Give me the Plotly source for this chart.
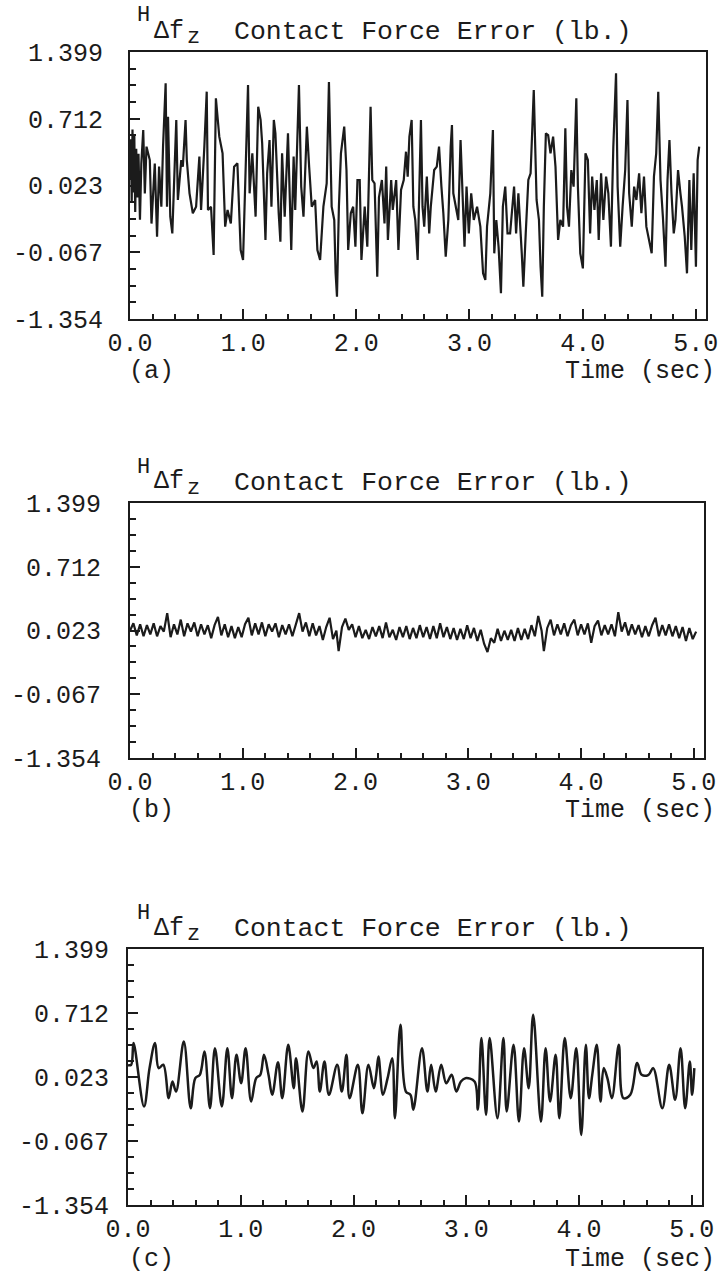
import plotly.graph_objects as go

# ---------------- data ----------------
Y_TICK_LABELS = ["-1.354", "-0.067", "0.023", "0.712", "1.399"]
X_TICK_LABELS = ["0.0", "1.0", "2.0", "3.0", "4.0", "5.0"]
X_TICK_VALUES = [0, 1, 2, 3, 4, 5]
PANEL_TAGS = ["(a)", "(b)", "(c)"]
TITLE_TEXT = "Contact Force Error (lb.)"
X_TITLE = "Time (sec)"

TIME_A = [0.000, 0.008, 0.015, 0.022, 0.030, 0.038, 0.046, 0.055, 0.065, 0.075, 0.088, 0.100,
          0.117, 0.131, 0.146, 0.175, 0.190, 0.219, 0.239, 0.257, 0.277, 0.292, 0.315, 0.327,
          0.336, 0.356, 0.374, 0.394, 0.409, 0.423, 0.453, 0.467, 0.491, 0.502, 0.526, 0.555,
          0.584, 0.613, 0.628, 0.657, 0.678, 0.689, 0.716, 0.739, 0.759, 0.789, 0.818, 0.841,
          0.862, 0.891, 0.920, 0.949, 0.978, 0.999, 1.022, 1.043, 1.057, 1.081, 1.110, 1.133,
          1.154, 1.168, 1.197, 1.212, 1.233, 1.250, 1.271, 1.285, 1.314, 1.329, 1.344, 1.367,
          1.396, 1.425, 1.446, 1.460, 1.493, 1.513, 1.533, 1.563, 1.583, 1.606, 1.636, 1.656,
          1.680, 1.709, 1.738, 1.758, 1.782, 1.805, 1.817, 1.829, 1.846, 1.864, 1.893, 1.913,
          1.928, 1.951, 1.972, 1.992, 2.010, 2.030, 2.045, 2.074, 2.097, 2.126, 2.141, 2.161,
          2.185, 2.200, 2.226, 2.249, 2.264, 2.279, 2.308, 2.322, 2.352, 2.372, 2.395, 2.419,
          2.439, 2.454, 2.469, 2.489, 2.504, 2.521, 2.542, 2.556, 2.571, 2.585, 2.600, 2.623,
          2.644, 2.658, 2.688, 2.711, 2.731, 2.752, 2.769, 2.790, 2.813, 2.834, 2.845, 2.857,
          2.877, 2.901, 2.921, 2.936, 2.956, 2.974, 2.994, 3.015, 3.038, 3.067, 3.096, 3.120,
          3.140, 3.155, 3.184, 3.207, 3.219, 3.237, 3.257, 3.278, 3.295, 3.316, 3.336, 3.359,
          3.374, 3.394, 3.412, 3.432, 3.462, 3.476, 3.497, 3.520, 3.540, 3.568, 3.593, 3.614,
          3.628, 3.643, 3.657, 3.675, 3.695, 3.716, 3.739, 3.760, 3.783, 3.803, 3.827, 3.847,
          3.862, 3.879, 3.900, 3.920, 3.944, 3.958, 3.979, 4.002, 4.025, 4.046, 4.066, 4.084,
          4.104, 4.125, 4.142, 4.163, 4.183, 4.207, 4.227, 4.250, 4.271, 4.295, 4.309, 4.332,
          4.353, 4.376, 4.396, 4.411, 4.434, 4.455, 4.475, 4.499, 4.519, 4.542, 4.563, 4.586,
          4.610, 4.630, 4.650, 4.668, 4.688, 4.709, 4.732, 4.750, 4.767, 4.785, 4.805, 4.820,
          4.843, 4.864, 4.878, 4.902, 4.922, 4.943, 4.960, 4.981, 5.001, 5.016, 5.030]
FORCE_A = [0.08, 0.50, -0.15, 0.60, -0.05, 0.55, -0.25, 0.40, -0.10, 0.35, -0.33, 0.25,
           0.595, -0.06, 0.423, 0.285, -0.37, 0.25, -0.505, 0.217, -0.196, 0.423, 1.076, -0.196,
           0.732, -0.299, -0.471, 0.285, 0.698, -0.127, 0.285, 0.217, 0.698, 0.285, -0.058, -0.264,
           -0.196, 0.32, -0.23, 0.423, 0.99, -0.23, -0.196, -0.694, 0.921, 0.526, 0.354, -0.402,
           -0.23, -0.368, 0.217, 0.251, -0.643, -0.746, 0.285, 1.059, -0.058, 0.354, -0.299, 0.835,
           0.698, 0.457, -0.539, 0.148, 0.492, -0.196, 0.698, 0.560, -0.264, -0.557, 0.354, -0.299,
           0.560, -0.643, 0.320, -0.230, 1.059, 0.011, -0.299, 0.629, 0.217, -0.196, -0.127, -0.643,
           -0.746, -0.196, 0.045, 1.09, -0.196, -0.333, -0.883, -1.124, -0.196, 0.354, 0.629, 0.182,
           -0.643, -0.264, -0.196, -0.608, 0.079, 0.079, -0.746, -0.196, -0.608, 0.835, 0.079, 0.045,
           -0.918, -0.10, 0.079, -0.368, 0.217, -0.539, 0.079, -0.23, 0.079, -0.643, -0.024, 0.079,
           0.371, 0.114, 0.526, 0.698, -0.196, -0.333, -0.746, 0.114, 0.698, -0.196, -0.402, 0.114,
           -0.471, -0.196, 0.182, 0.217, 0.423, 0.011, -0.264, -0.711, -0.333, 0.423, 0.646, -0.058,
           -0.196, -0.333, 0.492, 0.011, -0.608, 0.011, -0.471, -0.058, -0.333, -0.196, -0.402, -0.883,
           -0.952, -0.402, -0.058, 0.595, -0.677, -0.333, -0.608, -1.089, -0.196, 0.011, -0.471, -0.471,
           -0.264, 0.011, -0.471, -0.058, -0.677, -1.021, -0.471, 0.079, 0.148, 1.007, -0.127, -0.333,
           -0.814, -1.124, -0.196, 0.560, 0.543, 0.354, 0.526, 0.217, -0.539, -0.333, -0.402, 0.612,
           -0.196, -0.402, 0.182, 0.011, 0.921, 0.011, -0.677, -0.832, 0.354, 0.285, -0.471, 0.114,
           -0.23, 0.079, -0.539, 0.148, -0.333, 0.114, -0.058, -0.608, 0.423, 1.179, 0.011, -0.608,
           -0.196, 0.182, 0.904, -0.058, -0.402, 0.011, -0.127, 0.148, -0.264, 0.114, -0.402, -0.539,
           -0.677, 0.114, 0.354, 0.990, 0.079, -0.299, -0.814, 0.079, 0.492, -0.058, -0.471, -0.333,
           0.182, -0.058, -0.196, -0.505, -0.883, 0.079, -0.643, 0.148, -0.814, 0.285, 0.423]

TIME_B = [0.00, 0.03, 0.06, 0.09, 0.12, 0.15, 0.18, 0.21, 0.24, 0.27, 0.30, 0.33, 0.36, 0.39,
          0.42, 0.45, 0.48, 0.51, 0.54, 0.57, 0.60, 0.63, 0.66, 0.69, 0.72, 0.75, 0.78, 0.81,
          0.84, 0.87, 0.90, 0.93, 0.96, 0.99, 1.02, 1.05, 1.08, 1.11, 1.14, 1.17, 1.20, 1.23,
          1.26, 1.29, 1.32, 1.35, 1.38, 1.41, 1.44, 1.47, 1.50, 1.53, 1.56, 1.59, 1.62, 1.65,
          1.68, 1.71, 1.74, 1.77, 1.80, 1.83, 1.85, 1.88, 1.91, 1.94, 1.97, 2.00, 2.03, 2.06,
          2.09, 2.12, 2.15, 2.18, 2.21, 2.24, 2.27, 2.30, 2.33, 2.36, 2.39, 2.42, 2.45, 2.48,
          2.51, 2.54, 2.57, 2.60, 2.63, 2.66, 2.69, 2.72, 2.75, 2.78, 2.81, 2.84, 2.87, 2.90,
          2.93, 2.96, 2.99, 3.02, 3.05, 3.08, 3.11, 3.14, 3.17, 3.20, 3.23, 3.26, 3.29, 3.32,
          3.35, 3.38, 3.41, 3.44, 3.47, 3.50, 3.53, 3.56, 3.59, 3.62, 3.65, 3.67, 3.70, 3.73,
          3.76, 3.79, 3.82, 3.85, 3.88, 3.91, 3.94, 3.97, 4.00, 4.03, 4.06, 4.09, 4.12, 4.15,
          4.18, 4.21, 4.24, 4.27, 4.30, 4.33, 4.36, 4.39, 4.42, 4.45, 4.48, 4.51, 4.54, 4.57,
          4.60, 4.63, 4.66, 4.69, 4.72, 4.75, 4.78, 4.81, 4.84, 4.87, 4.90, 4.93, 4.96, 4.99, 5.02]
FORCE_B = [0.02, 0.10, -0.03, 0.09, -0.04, 0.08, -0.02, 0.10, -0.04, 0.07, 0.01, 0.21, -0.05, 0.09,
           -0.02, 0.14, -0.04, 0.10, 0.01, 0.11, -0.04, 0.09, -0.02, 0.08, -0.06, 0.08, 0.17, -0.03,
           0.09, -0.05, 0.07, -0.06, 0.06, -0.05, 0.09, 0.16, -0.03, 0.10, -0.02, 0.11, -0.04, 0.09,
           0.01, 0.10, -0.05, 0.08, -0.02, 0.09, -0.04, 0.10, 0.21, 0.01, 0.11, -0.04, 0.10, -0.03,
           0.07, -0.08, 0.06, 0.16, -0.07, 0.02, -0.20, 0.06, 0.15, 0.03, 0.09, -0.05, 0.07, -0.06,
           0.03, -0.07, 0.06, -0.04, 0.07, -0.06, 0.11, -0.05, 0.03, -0.08, 0.06, -0.05, 0.07, -0.07,
           0.05, -0.06, 0.08, -0.05, 0.06, -0.07, 0.07, -0.06, 0.10, -0.05, 0.06, -0.07, 0.05, -0.08,
           0.04, -0.07, 0.08, -0.06, 0.05, -0.09, 0.03, -0.12, -0.21, -0.06, -0.11, 0.04, -0.09, 0.02,
           -0.08, 0.03, -0.09, 0.05, -0.08, 0.04, -0.07, 0.08, -0.04, 0.18, 0.02, -0.20, 0.05, 0.14,
           -0.03, 0.09, -0.02, 0.10, -0.04, 0.08, 0.14, -0.03, 0.09, -0.02, 0.10, -0.11, 0.07, 0.13,
           -0.03, 0.08, -0.02, 0.09, -0.04, 0.22, 0.01, 0.11, -0.03, 0.09, -0.02, 0.08, -0.05, 0.07,
           -0.04, 0.08, 0.16, -0.04, 0.08, -0.03, 0.09, -0.04, 0.07, -0.06, 0.06, -0.09, 0.05, -0.07, 0.01]

TIME_C = [0.000, 0.028, 0.049, 0.142, 0.191, 0.240, 0.272, 0.313, 0.361, 0.394, 0.426, 0.495,
          0.556, 0.597, 0.637, 0.678, 0.727, 0.771, 0.832, 0.881, 0.922, 0.962, 1.003, 1.043,
          1.092, 1.137, 1.173, 1.206, 1.246, 1.279, 1.330, 1.368, 1.421, 1.470, 1.490, 1.547,
          1.600, 1.644, 1.673, 1.701, 1.742, 1.782, 1.855, 1.896, 1.937, 1.965, 2.038, 2.079,
          2.132, 2.180, 2.201, 2.221, 2.261, 2.302, 2.343, 2.367, 2.416, 2.464, 2.505, 2.530,
          2.607, 2.655, 2.688, 2.728, 2.777, 2.822, 2.870, 2.911, 2.952, 2.992, 3.073, 3.102,
          3.134, 3.175, 3.207, 3.276, 3.329, 3.358, 3.419, 3.467, 3.512, 3.553, 3.593, 3.662,
          3.703, 3.743, 3.792, 3.825, 3.873, 3.926, 3.975, 4.019, 4.060, 4.088, 4.117, 4.157,
          4.190, 4.218, 4.251, 4.291, 4.352, 4.393, 4.454, 4.515, 4.555, 4.616, 4.657, 4.738,
          4.799, 4.852, 4.900, 4.941, 4.982, 5.002, 5.022]
FORCE_C = [0.15, 0.154, 0.387, -0.295, 0.118, 0.387, 0.118, 0.154, -0.205, -0.026, -0.134, 0.405,
           -0.313, 0.010, 0.046, 0.297, -0.313, 0.333, -0.295, 0.333, -0.205, 0.261, -0.044, 0.333,
           -0.241, 0.010, 0.046, 0.261, 0.046, -0.169, 0.180, -0.205, 0.369, -0.098, 0.225, -0.349,
           0.297, 0.118, 0.189, -0.134, 0.189, -0.169, 0.154, -0.134, 0.261, -0.205, 0.154, -0.367,
           0.154, -0.098, 0.046, 0.243, -0.169, 0.010, 0.225, -0.421, 0.584, -0.134, -0.169, -0.331,
           0.333, -0.134, 0.154, -0.134, 0.154, -0.044, 0.046, -0.134, -0.026, 0.010, -0.026, -0.331,
           0.441, -0.385, 0.441, -0.421, 0.441, -0.349, 0.369, -0.457, 0.333, -0.098, 0.692, -0.457,
           0.333, -0.241, 0.261, -0.421, 0.441, -0.205, 0.333, -0.600, 0.369, -0.205, 0.046, 0.369,
           -0.241, 0.118, 0.010, -0.205, 0.369, -0.205, -0.169, 0.172, 0.046, 0.046, 0.118, -0.313,
           0.154, -0.223, 0.333, -0.313, 0.189, -0.169, 0.118]

# ---------------- layout helpers ----------------
W, H = 719, 1276
Y_MIN, Y_MAX = -1.354, 1.399
X_MAX = 5.09
FONT = "Liberation Mono, Courier New, monospace"
INK = "#1b1b1b"

# panel boxes in pixels: left, right, top, bottom
BOXES = [(130, 706, 52, 319), (130, 704, 503, 758), (128, 702, 949, 1205)]
LABEL_STANDOFF = [20, 22, 12]
TAG_OFFSET = [52, 52, 54]

series = [(TIME_A, FORCE_A, "linear", 2.2), (TIME_B, FORCE_B, "linear", 2.2),
          (TIME_C, FORCE_C, "spline", 2.5)]

fig = go.Figure()
annotations = []
step = (Y_MAX - Y_MIN) / 4
ytickvals = [Y_MIN + i * step for i in range(5)]

for i, ((L, R, T, B), (tx, fy, shape, lw)) in enumerate(zip(BOXES, series)):
    n = "" if i == 0 else str(i + 1)
    fig.add_trace(go.Scatter(x=tx, y=fy, mode="lines", xaxis="x" + n, yaxis="y" + n,
                             line=dict(color=INK, width=lw, shape=shape), showlegend=False,
                             hoverinfo="skip"))
    xd = [L / W, R / W]
    yd = [1 - B / H, 1 - T / H]
    axis_common = dict(showline=True, linecolor=INK, linewidth=2, mirror=True,
                       showgrid=False, zeroline=False, ticks="inside", tickcolor=INK,
                       tickwidth=2, automargin=False, ticklabeloverflow="allow",
                       tickfont=dict(family=FONT, size=25, color=INK))
    fig.update_layout(**{
        "xaxis" + n: dict(domain=xd, range=[0, X_MAX], anchor="y" + n,
                          tickvals=X_TICK_VALUES, ticktext=X_TICK_LABELS, ticklen=10,
                          ticklabelstandoff=0,
                          minor=dict(dtick=0.2, tick0=0, ticks="inside", ticklen=5,
                                     tickwidth=2, tickcolor=INK, showgrid=False),
                          **axis_common),
        "yaxis" + n: dict(domain=yd, range=[Y_MIN, Y_MAX], anchor="x" + n,
                          tickvals=ytickvals, ticktext=Y_TICK_LABELS, ticklen=10,
                          ticklabelstandoff=LABEL_STANDOFF[i],
                          minor=dict(dtick=step / 4, tick0=Y_MIN, ticks="inside", ticklen=6,
                                     tickwidth=2, tickcolor=INK, showgrid=False),
                          **axis_common),
    })

    def px(x, y, text, size, xanchor="left", yanchor="middle"):
        annotations.append(dict(x=x / W, y=1 - y / H, xref="paper", yref="paper",
                                text=text, showarrow=False, xanchor=xanchor,
                                yanchor=yanchor, font=dict(family=FONT, size=size, color=INK)))
    px(143, T - 36, "H", 22, xanchor="center")
    px(152, T - 21, "\u0394f", 25)
    px(185, T - 15, "z", 22)
    px(232, T - 20, TITLE_TEXT, 26.5)
    px(127, B + TAG_OFFSET[i], PANEL_TAGS[i], 25)
    px(717, B + TAG_OFFSET[i], X_TITLE, 25, xanchor="right")

fig.update_layout(width=W, height=H, margin=dict(l=0, r=0, t=0, b=0, autoexpand=False),
                  paper_bgcolor="white", plot_bgcolor="white", annotations=annotations)

fig.write_html("out.html", config={"displayModeBar": False},
               post_script="document.body.style.margin='0';"
                           "document.body.style.overflow='hidden';")
